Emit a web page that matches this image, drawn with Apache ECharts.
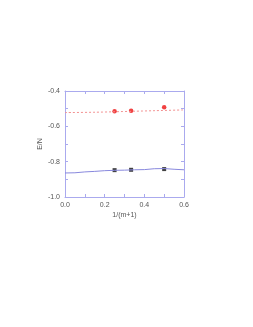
<!DOCTYPE html>
<html><head><meta charset="utf-8">
<script src="https://cdn.jsdelivr.net/npm/echarts@6/dist/echarts.min.js"></script>
<style>html,body{margin:0;padding:0;background:#fff}#c{width:253px;height:327px}</style>
</head><body><div id="c"></div>
<script>
const redPtsX = [0.25, 0.3333, 0.5];
const redPtsY = [-0.514, -0.512, -0.492];
const blackPtsX = [0.25, 0.3333, 0.5];
const blackPtsY = [-0.848, -0.846, -0.842];
const redLineX = [0, 0.1, 0.2, 0.3, 0.4, 0.5, 0.6];
const redLineY = [-0.522, -0.521, -0.519, -0.516, -0.513, -0.510, -0.507];
const blueLineX = [0, 0.05, 0.1, 0.15, 0.2, 0.25, 0.3, 0.35, 0.4, 0.45, 0.5, 0.55, 0.6];
const blueLineY = [-0.864, -0.863, -0.858, -0.855, -0.851, -0.849, -0.848, -0.846, -0.845, -0.840, -0.839, -0.843, -0.846];
const xTicks = [0.0, 0.2, 0.4, 0.6];
const yTicks = [-1.0, -0.8, -0.6, -0.4];

const zip = (a, b) => a.map((v, i) => [v, b[i]]);
const axisCol = '#aaaaee';
const font = 'Liberation Sans, Arial, sans-serif';
const fmt = list => v => {
  const hit = list.find(t => Math.abs(t - v) < 1e-6);
  return hit === undefined ? '' : hit.toFixed(1);
};
const lbl = () => ({fontSize: 7, color: '#555', fontFamily: font});
const tick = () => ({show: true, inside: true, length: 3, lineStyle: {color: axisCol, width: 1}});
const chart = echarts.init(document.getElementById('c'));
chart.setOption({
  animation: false,
  grid: {left: 65, right: 69, top: 91, bottom: 130},
  xAxis: [
    {type: 'value', position: 'bottom', min: 0, max: 0.6, interval: 0.1,
     axisLine: {show: true, onZero: false, lineStyle: {color: axisCol}}, splitLine: {show: false},
     axisTick: tick(),
     axisLabel: Object.assign({margin: 5, formatter: fmt(xTicks)}, lbl()),
     name: '1/(m+1)', nameLocation: 'middle', nameGap: 15,
     nameTextStyle: {fontSize: 7, color: '#555', fontFamily: font}},
    {type: 'value', position: 'top', min: 0, max: 0.6, interval: 0.1,
     axisLine: {show: true, onZero: false, lineStyle: {color: axisCol}}, splitLine: {show: false},
     axisTick: tick(), axisLabel: {show: false}}
  ],
  yAxis: [
    {type: 'value', position: 'left', min: -1.0, max: -0.4, interval: 0.1,
     axisLine: {show: true, onZero: false, lineStyle: {color: axisCol}}, splitLine: {show: false},
     axisTick: tick(),
     axisLabel: Object.assign({margin: 5, formatter: fmt(yTicks)}, lbl()),
     name: 'E/N', nameLocation: 'middle', nameGap: 17, nameRotate: 90,
     nameTextStyle: {fontSize: 7, color: '#555', fontFamily: font}},
    {type: 'value', position: 'right', min: -1.0, max: -0.4, interval: 0.1,
     axisLine: {show: true, onZero: false, lineStyle: {color: axisCol}}, splitLine: {show: false},
     axisTick: tick(), axisLabel: {show: false}}
  ],
  series: [
    {type: 'line', data: zip(redLineX, redLineY), showSymbol: false, smooth: true,
     lineStyle: {color: '#f29090', width: 1, type: [2, 2]}},
    {type: 'line', data: zip(blueLineX, blueLineY), showSymbol: false,
     lineStyle: {color: '#8888dd', width: 1}},
    {type: 'scatter', data: zip(redPtsX, redPtsY), symbol: 'circle', symbolSize: 4.5,
     itemStyle: {color: '#ee1111'}},
    {type: 'scatter', data: zip(blackPtsX, blackPtsY), symbol: 'rect', symbolSize: 4,
     itemStyle: {color: '#111'}}
  ]
});
</script></body></html>
